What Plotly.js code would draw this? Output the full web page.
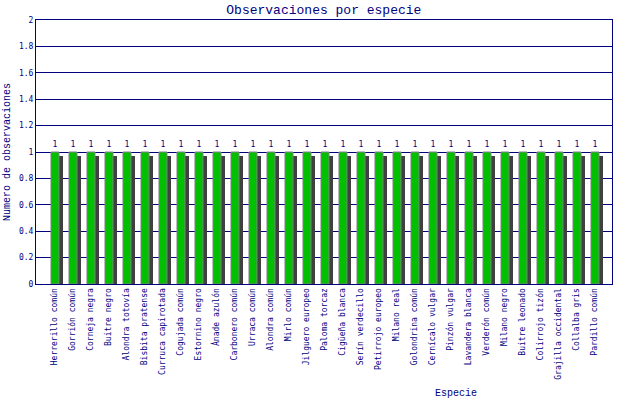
<!DOCTYPE html>
<html>
<head>
<meta charset="utf-8">
<script src="https://cdn.plot.ly/plotly-3.0.1.min.js"></script>
<style>html,body{margin:0;padding:0;background:#fff;}#chart{width:640px;height:400px;}</style>
</head>
<body>
<div id="chart"></div>
<script>
const especies = ["Herrerillo común","Gorrión común","Corneja negra","Buitre negro","Alondra totovía","Bisbita pratense","Curruca capirotada","Cogujada común","Estornino negro","Ánade azulón","Carbonero común","Urraca común","Alondra común","Mirlo común","Jilguero europeo","Paloma torcaz","Cigüeña blanca","Serín verdecillo","Petirrojo europeo","Milano real","Golondrina común","Cernícalo vulgar","Pinzón vulgar","Lavandera blanca","Verderón común","Milano negro","Buitre leonado","Colirrojo tizón","Grajilla occidental","Collalba gris","Pardillo común"];
const observaciones = [1,1,1,1,1,1,1,1,1,1,1,1,1,1,1,1,1,1,1,1,1,1,1,1,1,1,1,1,1,1,1];
const yTicks = [0,0.2,0.4,0.6,0.8,1,1.2,1.4,1.6,1.8,2];

const navy = "#000080";
const mono = "DejaVu Sans Mono, Liberation Mono, monospace";
const lmono = "Liberation Mono, DejaVu Sans Mono, monospace";

const shadow = {
  type: "bar", x: especies, y: observaciones.map(v => v - 0.03),
  width: 0.444, offset: 0.056,
  marker: {color: "#404040", line: {width: 0}},
  hoverinfo: "skip", showlegend: false
};
const main = {
  type: "bar", x: especies, y: observaciones,
  width: 0.444, offset: -0.167,
  marker: {color: "#00c000", line: {color: "#808080", width: 1}},
  text: observaciones.map(String), textposition: "outside",
  textfont: {family: mono, size: 8, color: navy},
  cliponaxis: false, showlegend: false
};

const layout = {
  width: 640, height: 400,
  margin: {l: 36, r: 28, t: 20, b: 116},
  paper_bgcolor: "#fff", plot_bgcolor: "#fff",
  barmode: "overlay", bargap: 0,
  font: {family: mono, color: navy, size: 8},
  title: {text: "Observaciones por especie", font: {family: lmono, size: 13, color: navy}, x: 0.506, xanchor: "center", y: 0.977, yanchor: "middle"},
  xaxis: {
    type: "category", range: [-1, 31], tickangle: -90,
    showgrid: false, showline: true, linecolor: navy, linewidth: 1, mirror: true,
    ticks: "", tickfont: {family: mono, size: 8, color: navy}, fixedrange: true
  },
  yaxis: {
    range: [0, 2], tickvals: yTicks, ticktext: yTicks.map(String),
    showgrid: true, gridcolor: navy, gridwidth: 1,
    showline: true, linecolor: navy, linewidth: 1, mirror: true, zeroline: false,
    ticks: "", tickfont: {family: mono, size: 8, color: navy},
    title: {text: "Numero de observaciones", font: {family: lmono, size: 10, color: navy}, standoff: 6}
  },
  annotations: [{
    text: "Especie", xref: "paper", yref: "paper", x: 0.73, y: -0.415,
    xanchor: "center", yanchor: "middle", showarrow: false,
    font: {family: lmono, size: 10, color: navy}
  }]
};

Plotly.newPlot("chart", [shadow, main], layout, {displayModeBar: false, staticPlot: true});
</script>
</body>
</html>
